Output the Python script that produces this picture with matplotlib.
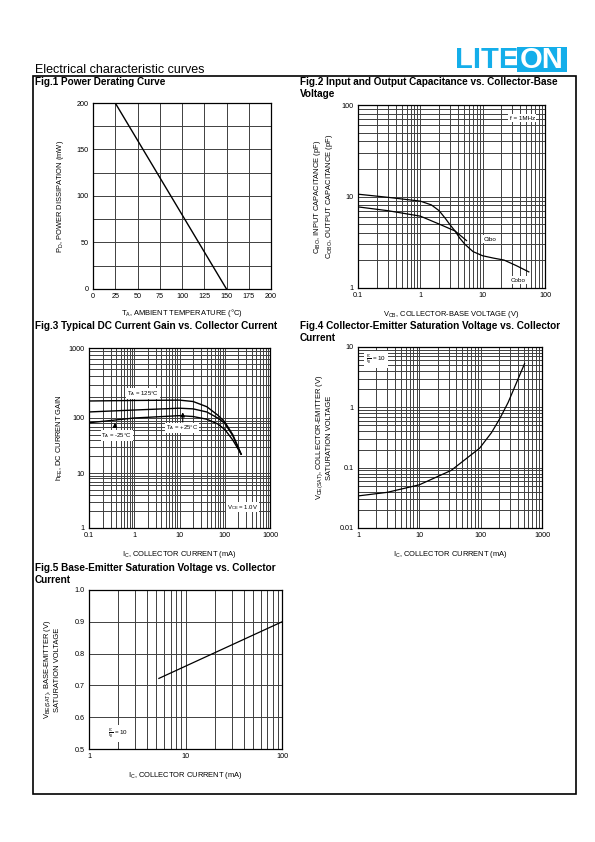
import matplotlib
matplotlib.use('Agg')
import matplotlib.pyplot as plt
import numpy as np
from matplotlib.ticker import FixedLocator, FuncFormatter, MultipleLocator
from matplotlib.patches import Rectangle

plt.rcParams['font.family'] = ['Liberation Sans', 'DejaVu Sans']
plt.rcParams['mathtext.fontset'] = 'custom'
plt.rcParams['mathtext.rm'] = 'Liberation Sans'
plt.rcParams['mathtext.it'] = 'Liberation Sans:italic'

# Fig.1 power derating
temp = [0, 25, 150]
pd_mw = [200, 200, 0]

# Fig.2 capacitance
vcb_cobo = [0.1, 0.3, 1, 1.5, 2, 2.5, 3, 3.6, 4.3, 5.2, 7, 10, 15, 22, 35, 55]
cap_cobo = [10.6, 9.8, 8.9, 8.1, 7.0, 5.8, 4.9, 4.2, 3.5, 3.0, 2.5, 2.25, 2.12, 2.02, 1.75, 1.5]
vcb_cibo = [0.1, 0.3, 1, 2, 3.6, 5.5]
cap_cibo = [7.7, 7.0, 6.1, 5.0, 4.2, 3.3]

# Fig.3 hFE
ic3 = [0.1, 1, 10, 20, 40, 70, 100, 150, 230]
hfe_125 = [175, 178, 180, 172, 145, 110, 85, 50, 22]
hfe_25 = [122, 130, 138, 135, 122, 100, 80, 48, 22]
ic3_m25 = [0.1, 0.3, 1, 10, 20, 40, 70, 100, 150, 230]
hfe_m25 = [82, 90, 100, 108, 105, 95, 78, 62, 40, 22]

# Fig.4 VCE(sat)
ic4 = [1, 3, 10, 33, 96, 150, 205, 280, 380, 520]
vce_sat = [0.034, 0.039, 0.052, 0.09, 0.21, 0.38, 0.65, 1.2, 2.5, 5.3]

# Fig.5 VBE(sat)
ic5 = [5.3, 100]
vbe_sat = [0.722, 0.90]

W, H = 595, 842
fig = plt.figure(figsize=(W / 100, H / 100), dpi=100)


def box(x0, y0, x1, y1):
    # pixel box -> figure fraction
    return [x0 / W, 1 - y1 / H, (x1 - x0) / W, (y1 - y0) / H]


def fx(x):
    return x / W


def fy(y):
    return 1 - y / H


def style(ax):
    ax.tick_params(which='both', length=0, labelsize=5.2, pad=3)
    for s in ax.spines.values():
        s.set_linewidth(0.9)
    ax.grid(True, which='both', color='0.25', lw=0.7)
    ax.set_axisbelow(True)


fmt = FuncFormatter(lambda v, p: f'{v:g}')


def logticks(ax, axis, lo, hi):
    majors = [10.0 ** k for k in range(lo, hi + 1)]
    minors = [m * 10.0 ** k for k in range(lo, hi) for m in range(2, 10)]
    a = ax.xaxis if axis == 'x' else ax.yaxis
    a.set_major_locator(FixedLocator(majors))
    a.set_minor_locator(FixedLocator(minors))
    a.set_major_formatter(fmt)
    a.set_minor_formatter(FuncFormatter(lambda v, p: ''))


# page frame and headings
fig.patches.append(Rectangle((fx(33), fy(794)), (576 - 33) / W, (794 - 76) / H,
                             transform=fig.transFigure, fill=False, lw=1.2, ec='k'))
fig.text(fx(35), fy(70), 'Electrical characteristic curves', fontsize=9, va='center')
logo_c = '#14aeea'
fig.text(fx(455), fy(59.5), 'LITE', fontsize=21, fontweight='bold', color=logo_c, va='center')
fig.patches.append(Rectangle((fx(517), fy(72)), 50 / W, 25 / H, transform=fig.transFigure,
                             color=logo_c, lw=0))
fig.text(fx(542), fy(59.5), 'ON', fontsize=21, fontweight='bold', color='white',
         va='center', ha='center')

tkw = dict(fontsize=7.2, fontweight='bold', va='center')
fig.text(fx(35), fy(82), 'Fig.1 Power Derating Curve', **tkw)
fig.text(fx(300), fy(82), 'Fig.2 Input and Output Capacitance vs. Collector-Base', **tkw)
fig.text(fx(300), fy(94), 'Voltage', **tkw)
fig.text(fx(35), fy(326), 'Fig.3 Typical DC Current Gain vs. Collector Current', **tkw)
fig.text(fx(300), fy(326), 'Fig.4 Collector-Emitter Saturation Voltage vs. Collector', **tkw)
fig.text(fx(300), fy(338), 'Current', **tkw)
fig.text(fx(35), fy(568), 'Fig.5 Base-Emitter Saturation Voltage vs. Collector', **tkw)
fig.text(fx(35), fy(580), 'Current', **tkw)

lab = 5.4

# ---- Fig.1
ax1 = fig.add_axes(box(93, 103, 271, 289))
style(ax1)
ax1.plot(temp, pd_mw, color='k', lw=1.0)
ax1.set_xlim(0, 200)
ax1.set_ylim(0, 200)
ax1.xaxis.set_major_locator(MultipleLocator(25))
ax1.yaxis.set_major_locator(MultipleLocator(50))
ax1.yaxis.set_minor_locator(MultipleLocator(25))
ax1.set_xlabel(r'T$_{\mathrm{A}}$, AMBIENT TEMPERATURE (°C)', fontsize=lab, labelpad=5)
ax1.set_ylabel(r'P$_{\mathrm{D}}$, POWER DISSIPATION (mW)', fontsize=lab, labelpad=8)

# ---- Fig.2
ax2 = fig.add_axes(box(358, 105, 545, 288))
ax2.set_xscale('log')
ax2.set_yscale('log')
style(ax2)
ax2.plot(vcb_cobo, cap_cobo, color='k', lw=0.9)
ax2.plot(vcb_cibo, cap_cibo, color='k', lw=0.9)
ax2.set_xlim(0.1, 100)
ax2.set_ylim(1, 100)
logticks(ax2, 'x', -1, 2)
logticks(ax2, 'y', 0, 2)
wbox = dict(boxstyle='square,pad=0.25', fc='white', ec='none')
ax2.text(43, 72, 'f = 1MHz', fontsize=4.5, ha='center', va='center', bbox=wbox)
ax2.text(13, 3.4, 'Cibo', fontsize=4.5, ha='center', va='center', bbox=wbox)
ax2.text(37, 1.22, 'Cobo', fontsize=4.5, ha='center', va='center', bbox=wbox)
ax2.set_xlabel(r'V$_{\mathrm{CB}}$, COLLECTOR-BASE VOLTAGE (V)', fontsize=lab, labelpad=7)
ax2.set_ylabel('C$_{\\mathrm{IBO}}$, INPUT CAPACITANCE (pF)\nC$_{\\mathrm{OBO}}$, OUTPUT CAPACITANCE (pF)',
               fontsize=lab, labelpad=5, linespacing=1.1)

# ---- Fig.3 (upper decade is drawn taller in the source sheet)


def f3(y):
    l = np.log10(np.clip(y, 1e-9, None))
    return np.where(l > 2, 2 + (l - 2) * 70 / 55, l)


def f3inv(v):
    v = np.asarray(v, dtype=float)
    return np.where(v > 2, 10 ** (2 + (v - 2) * 55 / 70), 10 ** v)


ax3 = fig.add_axes(box(89, 348, 270, 528))
ax3.set_xscale('log')
ax3.set_yscale('function', functions=(f3, f3inv))
style(ax3)
for x, y in [(ic3, hfe_125), (ic3, hfe_25), (ic3_m25, hfe_m25)]:
    ax3.plot(x, y, color='k', lw=1.0)
ax3.set_xlim(0.1, 1000)
ax3.set_ylim(1, 1000)
logticks(ax3, 'x', -1, 3)
logticks(ax3, 'y', 0, 3)
tb = dict(boxstyle='square,pad=0.15', fc='white', ec='none')
ax3.text(1.56, 225, r'T$_{\mathrm{A}}$ = 125°C', fontsize=4.3, ha='center', va='center', bbox=tb)
ax3.text(0.41, 48, r'T$_{\mathrm{A}}$ = -25°C', fontsize=4.3, ha='center', va='center', bbox=tb)
ax3.text(11.4, 66, r'T$_{\mathrm{A}}$ = +25°C', fontsize=4.3, ha='center', va='center', bbox=tb)
ak = dict(arrowstyle='-|>', color='k', lw=0.8, mutation_scale=6)
ax3.annotate('', xy=(0.375, 92), xytext=(0.375, 60), arrowprops=ak)
ax3.annotate('', xy=(11.8, 132), xytext=(11.8, 75), arrowprops=ak)
ax3.text(250, 2.4, r'V$_{\mathrm{CE}}$ = 1.0V', fontsize=4.3, ha='center', va='center', bbox=tb)
ax3.set_xlabel(r'I$_{\mathrm{C}}$, COLLECTOR CURRENT (mA)', fontsize=lab, labelpad=7)
ax3.set_ylabel(r'h$_{\mathrm{FE}}$, DC CURRENT GAIN', fontsize=lab, labelpad=3)

# ---- Fig.4
ax4 = fig.add_axes(box(358, 347, 542, 528))
ax4.set_xscale('log')
ax4.set_yscale('log')
style(ax4)
ax4.plot(ic4, vce_sat, color='k', lw=0.9)
ax4.set_xlim(1, 1000)
ax4.set_ylim(0.01, 10)
logticks(ax4, 'x', 0, 3)
logticks(ax4, 'y', -2, 1)
ax4.text(2.0, 6.2, r'$\frac{\mathrm{I_C}}{\mathrm{I_B}}$ = 10', fontsize=4.5, ha='center', va='center',
         bbox=dict(boxstyle='square,pad=0.3', fc='white', ec='none'))
ax4.set_xlabel(r'I$_{\mathrm{C}}$, COLLECTOR CURRENT (mA)', fontsize=lab, labelpad=7)
ax4.set_ylabel('V$_{\\mathrm{CE(SAT)}}$, COLLECTOR-EMITTER (V)\nSATURATION VOLTAGE',
               fontsize=lab, labelpad=5, linespacing=1.1)

# ---- Fig.5
ax5 = fig.add_axes(box(89, 590, 282, 749))
ax5.set_xscale('log')
style(ax5)
ax5.plot(ic5, vbe_sat, color='k', lw=0.9)
ax5.set_xlim(1, 100)
ax5.set_ylim(0.5, 1.0)
logticks(ax5, 'x', 0, 2)
ax5.yaxis.set_major_locator(MultipleLocator(0.1))
ax5.yaxis.set_major_formatter(FuncFormatter(lambda v, p: f'{v:.1f}'))
ax5.text(2.0, 0.55, r'$\frac{\mathrm{I_C}}{\mathrm{I_B}}$ = 10', fontsize=4.5, ha='center', va='center',
         bbox=dict(boxstyle='square,pad=0.3', fc='white', ec='none'))
ax5.set_xlabel(r'I$_{\mathrm{C}}$, COLLECTOR CURRENT (mA)', fontsize=lab, labelpad=7)
ax5.set_ylabel('V$_{\\mathrm{BE(SAT)}}$, BASE-EMITTER (V)\nSATURATION VOLTAGE',
               fontsize=lab, labelpad=10, linespacing=1.1)

fig.savefig('out.png', dpi=100)
